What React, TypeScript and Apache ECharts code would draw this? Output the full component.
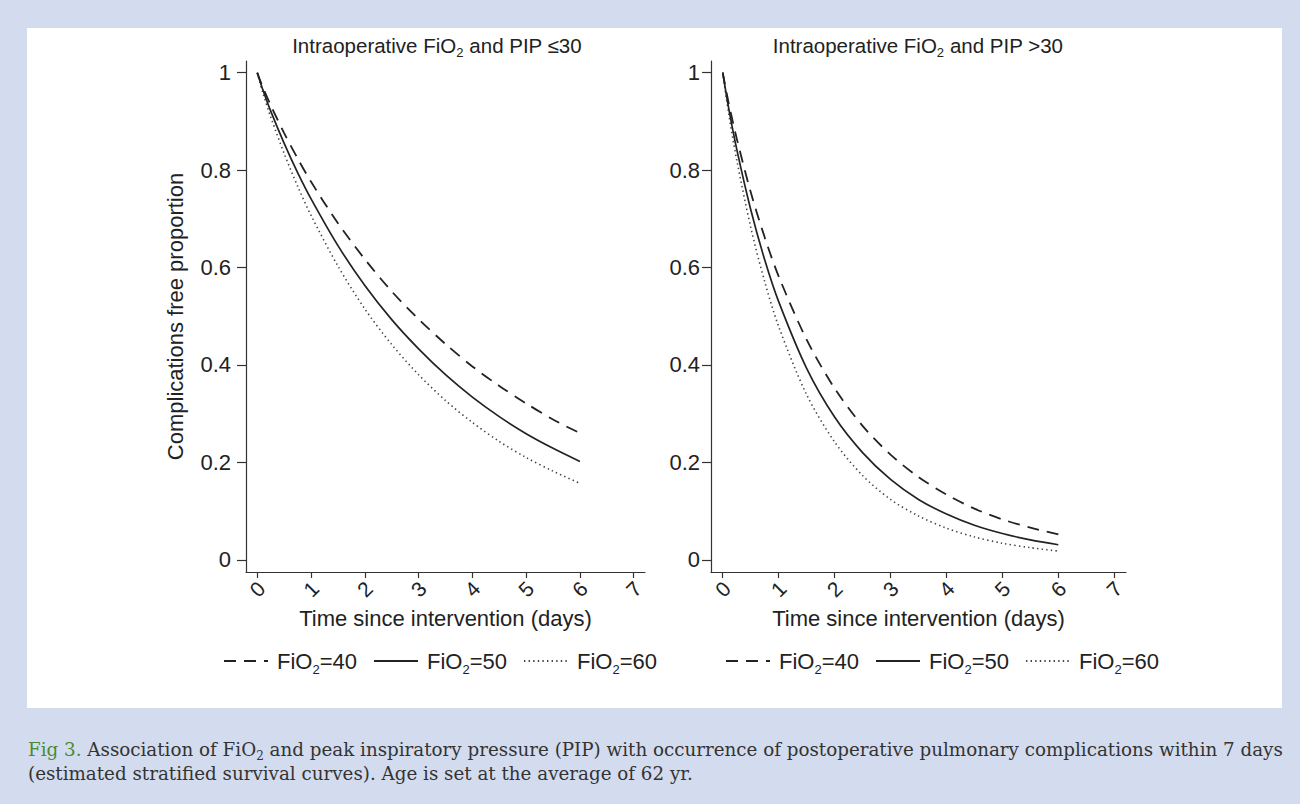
import React, { useEffect, useRef } from "react";
import * as echarts from "echarts";

const SANS = "'Liberation Sans', Arial, Helvetica, sans-serif";
const SERIF = "'DejaVu Serif', 'Liberation Serif', serif";

const xTicks = [0, 1, 2, 3, 4, 5, 6, 7];
const yTicks = [0, 0.2, 0.4, 0.6, 0.8, 1];
const seriesNames = ["FiO2=40", "FiO2=50", "FiO2=60"];
const panelTitles = ["Intraoperative FiO{s|2} and PIP \u226430", "Intraoperative FiO{s|2} and PIP >30"];

const times = [0, 0.1, 0.25, 0.5, 0.75, 1, 1.5, 2, 2.5, 3, 3.5, 4, 4.5, 5, 5.5, 6];
// PIP <= 30
const lowFio40 = [1, 0.971, 0.933, 0.876, 0.824, 0.776, 0.691, 0.617, 0.551, 0.494, 0.443, 0.397, 0.357, 0.321, 0.288, 0.26];
const lowFio50 = [1, 0.966, 0.921, 0.855, 0.795, 0.741, 0.645, 0.563, 0.493, 0.433, 0.38, 0.334, 0.294, 0.259, 0.229, 0.202];
const lowFio60 = [1, 0.96, 0.909, 0.834, 0.767, 0.707, 0.603, 0.515, 0.442, 0.38, 0.327, 0.282, 0.243, 0.21, 0.182, 0.157];
// PIP > 30
const highFio40 = [1, 0.941, 0.865, 0.755, 0.662, 0.582, 0.452, 0.352, 0.275, 0.216, 0.17, 0.134, 0.105, 0.083, 0.066, 0.052];
const highFio50 = [1, 0.931, 0.843, 0.719, 0.616, 0.53, 0.393, 0.293, 0.22, 0.165, 0.124, 0.094, 0.071, 0.054, 0.041, 0.031];
const highFio60 = [1, 0.92, 0.821, 0.683, 0.571, 0.479, 0.339, 0.242, 0.173, 0.124, 0.09, 0.065, 0.047, 0.034, 0.025, 0.018];

const captionLine1 =
  "{g|Fig 3.} Association of FiO{s|2} and peak inspiratory pressure (PIP) with occurrence of postoperative pulmonary complications within 7 days";
const captionLine2 = "(estimated stratified survival curves). Age is set at the average of 62 yr.";

const lineStyles = [
  { color: "#222", width: 1.8, type: [12, 8] },
  { color: "#222", width: 1.7, type: "solid" },
  { color: "#444", width: 1.6, type: [1.4, 3.2] },
];

const grids = [
  { left: 246, top: 61, width: 399, height: 511 },
  { left: 711, top: 61, width: 415, height: 511 },
];

export default function App() {
  const ref = useRef<HTMLDivElement>(null);
  useEffect(() => {
    if (!ref.current) return;
    const chart = echarts.init(ref.current, null, { renderer: "svg" });
    const panels = [
      [lowFio40, lowFio50, lowFio60],
      [highFio40, highFio50, highFio60],
    ];
    const series: any[] = [];
    panels.forEach((vals, gi) => {
      vals.forEach((arr, si) => {
        series.push({
          type: "line",
          name: seriesNames[si],
          xAxisIndex: gi,
          yAxisIndex: gi,
          data: times.map((t, i) => [t, arr[i]]),
          symbol: "none",
          showSymbol: false,
          smooth: 0.3,
          itemStyle: { color: lineStyles[si].color },
          lineStyle: lineStyles[si],
          z: 3 - si,
        });
      });
    });

    const axisLineStyle = { color: "#333", width: 1.2 };
    const xAxes = grids.map((_, gi) => ({
      type: "value",
      gridIndex: gi,
      min: -0.21,
      max: 7.21,
      axisLine: { show: true, onZero: false, lineStyle: axisLineStyle },
      axisTick: { show: true, length: 6, customValues: xTicks, lineStyle: axisLineStyle },
      axisLabel: {
        customValues: xTicks,
        rotate: 45,
        margin: 17,
        align: "center",
        verticalAlign: "middle",
        fontSize: 21,
        color: "#222",
        fontFamily: SANS,
      },
      splitLine: { show: false },
      name: "Time since intervention (days)",
      nameLocation: "middle",
      nameGap: 32,
      nameTextStyle: { fontSize: 22, color: "#222", fontFamily: SANS },
    }));
    const yAxes = grids.map((_, gi) => ({
      type: "value",
      gridIndex: gi,
      min: -0.025,
      max: 1.024,
      axisLine: { show: true, onZero: false, lineStyle: axisLineStyle },
      axisTick: { show: true, length: 9, customValues: yTicks, lineStyle: axisLineStyle },
      axisLabel: {
        customValues: yTicks,
        margin: gi === 0 ? 15 : 11,
        fontSize: 22,
        color: "#222",
        fontFamily: SANS,
        formatter: (v: number) => String(Math.round(v * 10) / 10),
      },
      splitLine: { show: false },
      name: gi === 0 ? "Complications free proportion" : "",
      nameLocation: "middle",
      nameGap: 60,
      nameTextStyle: { fontSize: 22, color: "#222", fontFamily: SANS },
    }));

    const legendBase = {
      data: seriesNames,
      orient: "horizontal",
      top: 646,
      padding: 0,
      itemWidth: 44,
      itemHeight: 14,
      itemGap: 16,
      itemStyle: { opacity: 0 },
      formatter: (n: string) => n.replace("FiO2", "FiO{s|2}"),
      textStyle: {
        fontSize: 22,
        lineHeight: 30,
        color: "#222",
        fontFamily: SANS,
        padding: [0, 0, 0, 4],
        rich: { s: { fontSize: 13, lineHeight: 13, verticalAlign: "bottom", color: "#222", fontFamily: SANS } },
      },
      selectedMode: false,
    };

    const titleText = (txt: string, x: number) => ({
      type: "text",
      x,
      y: 45,
      style: {
        text: txt,
        fontSize: 20.5,
        fontFamily: SANS,
        fill: "#222",
        align: "center",
        verticalAlign: "middle",
        lineHeight: 27,
        rich: { s: { fontSize: 13, lineHeight: 13, verticalAlign: "bottom", fontFamily: SANS, fill: "#222" } },
      },
    });

    chart.setOption({
      animation: false,
      backgroundColor: "#d3dcee",
      textStyle: { fontFamily: SANS },
      grid: grids,
      xAxis: xAxes,
      yAxis: yAxes,
      series,
      legend: [
        { ...legendBase, left: 223 },
        { ...legendBase, left: 725 },
      ],
      graphic: [
        { type: "rect", shape: { x: 27, y: 28, width: 1255, height: 680 }, style: { fill: "#ffffff" }, z: -10 },
        titleText(panelTitles[0], 437),
        titleText(panelTitles[1], 918),
        {
          type: "text",
          x: 28,
          y: 749,
          style: {
            text: captionLine1,
            fontSize: 18.3,
            fontFamily: SERIF,
            fill: "#333",
            align: "left",
            verticalAlign: "middle",
            lineHeight: 25,
            rich: {
              g: { fill: "#4a8a35", fontSize: 18.3, fontFamily: SERIF },
              s: { fontSize: 12, lineHeight: 12, verticalAlign: "bottom", fontFamily: SERIF, fill: "#333" },
            },
          },
        },
        {
          type: "text",
          x: 28,
          y: 773,
          style: {
            text: captionLine2,
            fontSize: 18.3,
            fontFamily: SERIF,
            fill: "#333",
            align: "left",
            verticalAlign: "middle",
          },
        },
      ],
    });
    return () => chart.dispose();
  }, []);
  return <div ref={ref} style={{ position: "fixed", left: 0, top: 0, width: 1300, height: 804 }} />;
}
